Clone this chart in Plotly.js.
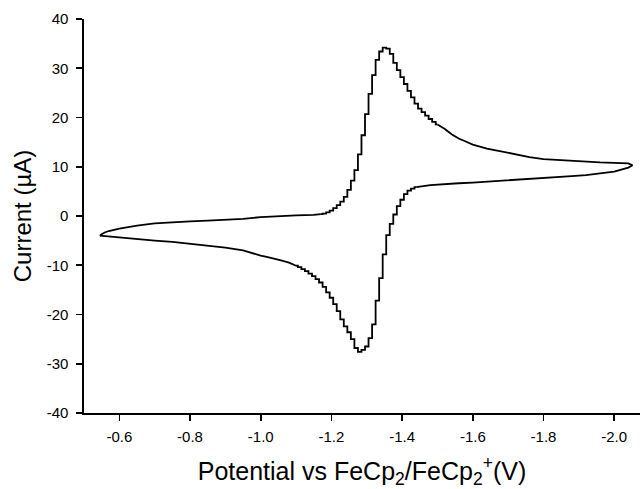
<!DOCTYPE html>
<html>
<head>
<meta charset="utf-8">
<script src="https://cdn.plot.ly/plotly-3.0.1.min.js"></script>
<style>html,body{margin:0;padding:0;background:#fff;}#chart{width:640px;height:489px;}</style>
</head>
<body>
<div id="chart"></div>
<script>
// Forward scan (upper branch), smooth start
const fwdStartE = [-0.545, -0.55, -0.56, -0.57, -0.60, -0.65, -0.70, -0.75, -0.80, -0.85, -0.90, -0.95, -1.00, -1.05, -1.10, -1.15, -1.17];
const fwdStartI = [-4.0, -3.7, -3.3, -3.05, -2.56, -1.95, -1.5, -1.24, -1.08, -0.93, -0.79, -0.59, -0.22, 0.02, 0.14, 0.22, 0.39];
// Forward scan, stepped peak region (0.01 V steps)
const fwdPeakE = [-1.17, -1.18, -1.19, -1.20, -1.21, -1.22, -1.23, -1.24, -1.25, -1.26, -1.27, -1.28, -1.29, -1.30, -1.31, -1.32, -1.33, -1.34, -1.35, -1.36, -1.37, -1.38, -1.39, -1.40, -1.41, -1.42, -1.43, -1.44, -1.45, -1.46, -1.47, -1.48, -1.49, -1.50];
const fwdPeakI = [0.39, 0.5, 0.75, 1.1, 1.6, 2.2, 2.9, 3.9, 5.3, 7.2, 9.3, 12.5, 16.4, 20.7, 24.8, 28.6, 31.7, 33.4, 34.2, 34.0, 32.9, 31.1, 29.6, 28.2, 26.8, 25.4, 24.1, 22.8, 21.8, 21.1, 20.4, 19.7, 19.1, 18.6];
// Forward scan, smooth tail
const fwdTailE = [-1.50, -1.52, -1.54, -1.56, -1.58, -1.60, -1.64, -1.68, -1.72, -1.76, -1.80, -1.84, -1.88, -1.92, -1.96, -2.00, -2.04, -2.052];
const fwdTailI = [18.6, 17.72, 16.6, 15.73, 15.12, 14.51, 13.7, 13.09, 12.48, 11.97, 11.56, 11.36, 11.16, 11.01, 10.89, 10.79, 10.69, 10.3];
// Reverse scan (lower branch), smooth start from switching point
const revTailE = [-2.052, -2.04, -2.00, -1.96, -1.92, -1.88, -1.84, -1.80, -1.76, -1.72, -1.68, -1.64, -1.60, -1.56, -1.52, -1.48, -1.46, -1.44];
const revTailI = [10.3, 9.84, 9.02, 8.62, 8.31, 8.11, 7.9, 7.7, 7.5, 7.3, 7.09, 6.95, 6.79, 6.65, 6.52, 6.28, 6.08, 5.87];
// Reverse scan, stepped peak region
const revPeakE = [-1.44, -1.43, -1.42, -1.41, -1.40, -1.39, -1.38, -1.37, -1.36, -1.35, -1.34, -1.33, -1.32, -1.31, -1.30, -1.29, -1.28, -1.27, -1.26, -1.25, -1.24, -1.23, -1.22, -1.21, -1.20, -1.19, -1.18, -1.17, -1.16, -1.15, -1.14, -1.13, -1.12, -1.11, -1.10];
const revPeakI = [5.87, 5.57, 5.16, 4.45, 3.3, 2.0, 0.3, -1.6, -3.9, -7.8, -12.6, -17.2, -22.0, -24.8, -26.5, -27.2, -27.6, -26.8, -25.0, -23.6, -22.4, -21.0, -19.3, -17.9, -16.6, -15.5, -14.4, -13.5, -12.8, -12.2, -11.7, -11.2, -10.8, -10.4, -10.1];
// Reverse scan, smooth end
const revEndE = [-1.10, -1.08, -1.06, -1.04, -1.02, -1.00, -0.95, -0.90, -0.85, -0.80, -0.75, -0.70, -0.65, -0.60, -0.57, -0.545];
const revEndI = [-10.1, -9.47, -9.06, -8.66, -8.35, -8.05, -6.99, -6.42, -6.02, -5.57, -5.26, -4.98, -4.65, -4.39, -4.2, -4.0];

const xTickVals = [-0.6, -0.8, -1.0, -1.2, -1.4, -1.6, -1.8, -2.0];
const xTickText = ["-0.6", "-0.8", "-1.0", "-1.2", "-1.4", "-1.6", "-1.8", "-2.0"];
const yTickVals = [-40, -30, -20, -10, 0, 10, 20, 30, 40];
const yTickText = ["-40", "-30", "-20", "-10", "0", "10", "20", "30", "40"];

const lineStyle = {color: '#000', width: 1.8};
function seg(x, y, shape) {
  return {x: x, y: y, type: 'scatter', mode: 'lines', line: Object.assign({shape: shape}, lineStyle), hoverinfo: 'skip', showlegend: false};
}
const data = [
  seg(fwdStartE, fwdStartI, 'linear'),
  seg(fwdPeakE, fwdPeakI, 'hvh'),
  seg(fwdTailE, fwdTailI, 'linear'),
  seg(revTailE, revTailI, 'linear'),
  seg(revPeakE, revPeakI, 'hvh'),
  seg(revEndE, revEndI, 'linear')
];

const fontFam = '"Liberation Sans", Arial, Helvetica, sans-serif';
const layout = {
  width: 640, height: 489,
  margin: {l: 84, r: 0, t: 19, b: 76},
  paper_bgcolor: '#fff', plot_bgcolor: '#fff',
  font: {family: fontFam, color: '#000', size: 15},
  xaxis: {
    range: [-0.5, -2.073],
    tickvals: xTickVals, ticktext: xTickText,
    ticks: 'outside', ticklen: 6, tickwidth: 1.6, tickcolor: '#000',
    showline: true, linecolor: '#000', linewidth: 1.6,
    showgrid: false, zeroline: false,
    tickfont: {size: 15, family: fontFam},
    ticklabelstandoff: 3,
    title: {text: 'Potential vs FeCp<sub>2</sub>/FeCp<sub>2</sub><sup>+</sup>(V)', font: {size: 25, family: fontFam}}
  },
  yaxis: {
    range: [-40, 40],
    tickvals: yTickVals, ticktext: yTickText,
    ticks: 'outside', ticklen: 6, tickwidth: 1.6, tickcolor: '#000',
    showline: true, linecolor: '#000', linewidth: 1.6,
    showgrid: false, zeroline: false,
    tickfont: {size: 15, family: fontFam},
    ticklabelstandoff: 5,
    title: {text: 'Current (µA)', font: {size: 24, family: fontFam}, standoff: 8}
  }
};
Plotly.newPlot('chart', data, layout, {staticPlot: true, displayModeBar: false});
</script>
</body>
</html>
